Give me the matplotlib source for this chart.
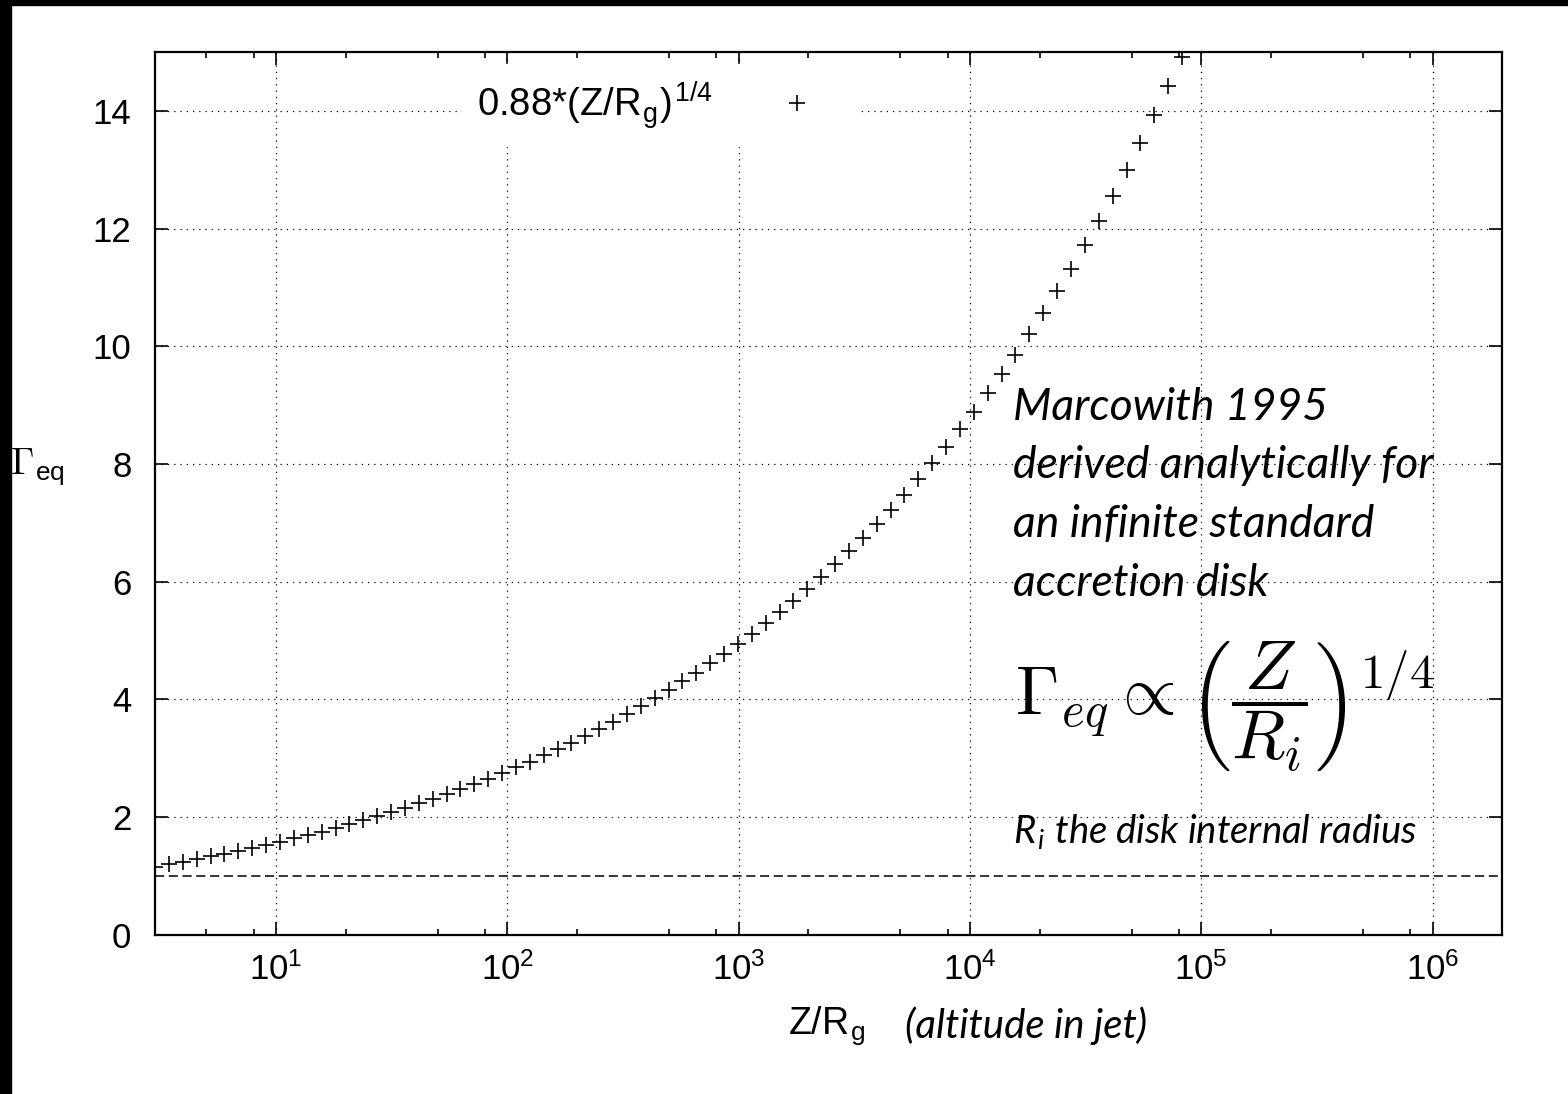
import matplotlib
matplotlib.use("Agg")
import matplotlib.pyplot as plt
from matplotlib.ticker import LogLocator, NullFormatter
from matplotlib.patches import Rectangle

plt.rcParams['font.family'] = ['Liberation Sans', 'DejaVu Sans']
plt.rcParams['mathtext.fontset'] = 'cm'

# ─────────────────────────────────────
# DATA
# ─────────────────────────────────────
z_rg = [3.000, 3.444, 3.955, 4.541, 5.214, 5.986, 6.873, 7.891, 9.060,
        10.40, 11.94, 13.71, 15.74, 18.08, 20.75, 23.83, 27.36, 31.41,
        36.07, 41.41, 47.55, 54.59, 62.68, 71.96, 82.62, 94.86,
        108.9, 125.1, 143.6, 164.9, 189.3, 217.3, 249.6, 286.5, 329.0,
        377.7, 433.7, 497.9, 571.7, 656.4, 753.6, 865.3, 993.4,
        1141, 1310, 1504, 1726, 1982, 2276, 2613, 3000, 3444, 3955,
        4541, 5214, 5986, 6873, 7891, 9060,
        10400, 11940, 13710, 15740, 18080, 20750, 23830, 27360, 31410,
        36070, 41410, 47550, 54590, 62680, 71960, 82620]

gamma_eq = [1.158, 1.199, 1.241, 1.285, 1.330, 1.377, 1.425, 1.475, 1.527,
            1.580, 1.636, 1.693, 1.753, 1.815, 1.878, 1.944, 2.013, 2.083,
            2.157, 2.232, 2.311, 2.392, 2.476, 2.563, 2.653, 2.746,
            2.843, 2.943, 3.046, 3.153, 3.264, 3.379, 3.498, 3.621, 3.748,
            3.880, 4.016, 4.157, 4.303, 4.454, 4.611, 4.773, 4.940,
            5.114, 5.294, 5.480, 5.673, 5.872, 6.078, 6.292, 6.513, 6.742, 6.979,
            7.224, 7.478, 7.741, 8.013, 8.294, 8.586,
            8.888, 9.200, 9.523, 9.858, 10.204, 10.563, 10.934, 11.319, 11.716,
            12.128, 12.554, 12.995, 13.452, 13.925, 14.414, 14.921]

gamma_floor = 1.0

x_range = (3, 2e6)
y_range = (0, 15)
y_ticks = [0, 2, 4, 6, 8, 10, 12, 14]

series_label = '0.88*(Z/R$_\\mathregular{g}$)$^\\mathregular{1/4}$'
note_lines = ["Marcowith 1995", "derived analytically for",
              "an infinite standard", "accretion disk"]
formula = r'$\Gamma_{eq}\propto\left(\dfrac{Z}{R_i}\right)^{1/4}$'
radius_note = 'R$_\\mathregular{i}$ the disk internal radius'

# ─────────────────────────────────────
# PLOT
# ─────────────────────────────────────
fig = plt.figure(figsize=(15.68, 10.94), dpi=100)
ax = fig.add_axes([0.0989, 0.1456, 0.8591, 0.8069])

ax.plot(z_rg, gamma_eq, ls='none', marker='+', ms=12, mew=1.2,
        color='k', label=series_label, zorder=3)
ax.axhline(gamma_floor, color='k', ls=(0, (6, 3)), lw=1.1, zorder=2)

ax.set_xscale('log')
ax.set_xlim(*x_range)
ax.set_ylim(*y_range)
ax.set_yticks(y_ticks)
ax.xaxis.set_major_locator(LogLocator(base=10, numticks=20))
ax.xaxis.set_minor_locator(LogLocator(base=10, subs=(2, 5, 8), numticks=20))
ax.xaxis.set_minor_formatter(NullFormatter())

ax.tick_params(which='both', direction='in', top=True, right=True, width=1.2)
ax.tick_params(which='major', length=9.5, labelsize=25)
ax.tick_params(which='minor', length=4.5)
ax.tick_params(axis='x', which='major', pad=13)
ax.tick_params(axis='y', which='major', pad=17)

ax.set_axisbelow(True)
ax.grid(True, which='major', ls=(0, (1, 4)), color='k', lw=0.9)
for sp in ax.spines.values():
    sp.set_linewidth(1.6)

leg = ax.legend(loc='center', bbox_to_anchor=(0.3750, 0.9400),
                markerfirst=False, frameon=True, fancybox=False,
                facecolor='white', edgecolor='white', framealpha=1,
                fontsize=27.5, handlelength=2.4, handletextpad=1.0,
                borderpad=0.4)

# annotations
for k, line in enumerate(note_lines):
    ax.text(0.637, 0.5978 - k * 0.0665, line, transform=ax.transAxes,
            style='italic', family='Lato', fontsize=32, va='center')
ax.text(0.6385, 0.258, formula, transform=ax.transAxes, fontsize=50,
        va='center')
ax.text(0.637, 0.1163, radius_note, transform=ax.transAxes,
        style='italic', family='Lato', fontsize=27.5, va='center')

# axis labels
ax.text(0.470, -0.103, 'Z/R$_\\mathregular{g}$', transform=ax.transAxes,
        fontsize=27, va='center')
ax.text(0.557, -0.103, '(altitude in jet)', transform=ax.transAxes,
        style='italic', family='Lato', fontsize=29, va='center')
fig.text(10 / 1568, 1 - 467 / 1094, r'$\Gamma_\mathregular{eq}$',
         fontsize=27, va='center', ha='left')

# black edge strips seen in the reference
fig.add_artist(Rectangle((0, 0), 11 / 1568, 1, transform=fig.transFigure,
                         color='k'))
fig.add_artist(Rectangle((0, 1 - 5 / 1094), 1, 5 / 1094,
                         transform=fig.transFigure, color='k'))

fig.savefig("out.png", dpi=100)
